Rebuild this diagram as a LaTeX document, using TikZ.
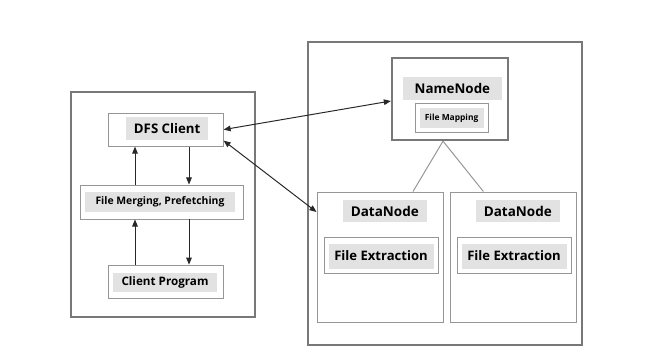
\documentclass[tikz,border=0pt]{standalone}
\usepackage{fontspec}
\setmainfont{Open Sans}
\usetikzlibrary{positioning, arrows.meta, calc}
\definecolor{cLine}{RGB}{120,120,120}
\definecolor{cBox} {RGB}{150,150,150}
\definecolor{cTag} {RGB}{226,226,226}
\definecolor{cArr} {RGB}{40,40,40}
\tikzset{
  %% thick grey group frame
  GRP/.style={rectangle, draw=cLine, line width=1.8pt,
              minimum width=#1, inner sep=0pt},
  %% thin component box (empty, sized by hand)
  BOX/.style={rectangle, draw=cBox, line width=0.7pt, fill=white,
              inner sep=0pt},
  %% grey highlight behind a label
  TAG/.style={rectangle, fill=cTag, inner sep=0pt, text=black,
              font=\bfseries\fontsize{#1}{#1}\selectfont},
  %% arrows
  A/.style ={-{Triangle[length=5pt,width=4pt]}, line width=0.7pt, color=cArr},
  DA/.style={{Triangle[length=5pt,width=4pt]}-{Triangle[length=5pt,width=4pt]},
             line width=0.7pt, color=cArr},
  L/.style ={line width=0.7pt, color=cBox},
}
\begin{document}
\begin{tikzpicture}
\useasboundingbox (0,0) rectangle (16.625,8.85);

%% ════════════════════════════════════════════════
%%  CLIENT SIDE  (left frame)
%% ════════════════════════════════════════════════
\node[GRP=4.6cm, minimum height=5.625cm] (client) at (4.075, 3.7375) {};

\node[BOX, minimum width=2.875cm, minimum height=0.825cm] (dfs)   at (4.14, 5.61) {};
\node[TAG=9.4, minimum width=2.05cm, minimum height=0.575cm]  at (4.18, 5.635) {DFS Client};

\node[BOX, minimum width=4.075cm, minimum height=0.85cm]  (merge) at (4.04, 3.80) {};
\node[TAG=7.4, minimum width=3.75cm, minimum height=0.5cm]    at (4.0, 3.80) {File Merging, Prefetching};

\node[BOX, minimum width=2.875cm, minimum height=0.825cm] (prog)  at (4.14, 1.81) {};
\node[TAG=8.3, minimum width=2.6cm, minimum height=0.475cm]   at (4.125, 1.79) {Client Program};

%% up / down columns between the boxes
\coordinate (colL) at (3.375, 0);
\coordinate (colR) at (4.725, 0);

\draw[A] (merge.north -| colL) -- (dfs.south -| colL);
\draw[A] (dfs.south -| colR)   -- (merge.north -| colR);
\draw[A] (prog.north -| colL)  -- (merge.south -| colL);
\draw[A] (merge.south -| colR) -- (prog.north -| colR);

%% ════════════════════════════════════════════════
%%  SERVER SIDE  (right frame)
%% ════════════════════════════════════════════════
\node[GRP=6.85cm, minimum height=7.575cm] (server) at (11.125, 4.0125) {};

%% NameNode
\node[BOX, line width=1.6pt, draw=cLine, minimum width=2.9cm, minimum height=2.05cm]
      (name) at (11.25, 6.375) {};
\node[TAG=9.5, minimum width=2.475cm, minimum height=0.575cm] at (11.31, 6.64) {NameNode};
\node[BOX, minimum width=1.825cm, minimum height=0.725cm] (map) at (11.29, 5.89) {};
\node[TAG=6, minimum width=1.6cm, minimum height=0.5cm]       at (11.29, 5.89) {File Mapping};

%% DataNodes
\foreach \n/\x in {1/9.5, 2/12.825}
{
  \node[BOX, minimum width=3.15cm, minimum height=3.25cm] (dn\n) at (\x, 2.425) {};
  \node[TAG=9.6, minimum width=2.1cm, minimum height=0.55cm] at (\x+0.12, 3.575) {DataNode};
  \node[BOX, minimum width=2.85cm, minimum height=0.9cm] (fe\n) at (\x+0.025, 2.475) {};
  \node[TAG=9.3, minimum width=2.625cm, minimum height=0.625cm] at (\x+0.025, 2.45) {File Extraction};
}

%% NameNode → DataNodes
\draw[L] ([xshift=-0.175cm]name.south) -- ([xshift=0.825cm]dn1.north);
\draw[L] ([xshift=-0.175cm]name.south) -- ([xshift=-0.74cm]dn2.north);

%% ════════════════════════════════════════════════
%%  CLIENT ↔ SERVER
%% ════════════════════════════════════════════════
\draw[DA] (dfs.east) -- ([yshift=-0.05cm]name.west);
\draw[DA] ([yshift=-0.275cm]dfs.east) -- ([yshift=1.125cm]dn1.west);

\end{tikzpicture}
\end{document}
